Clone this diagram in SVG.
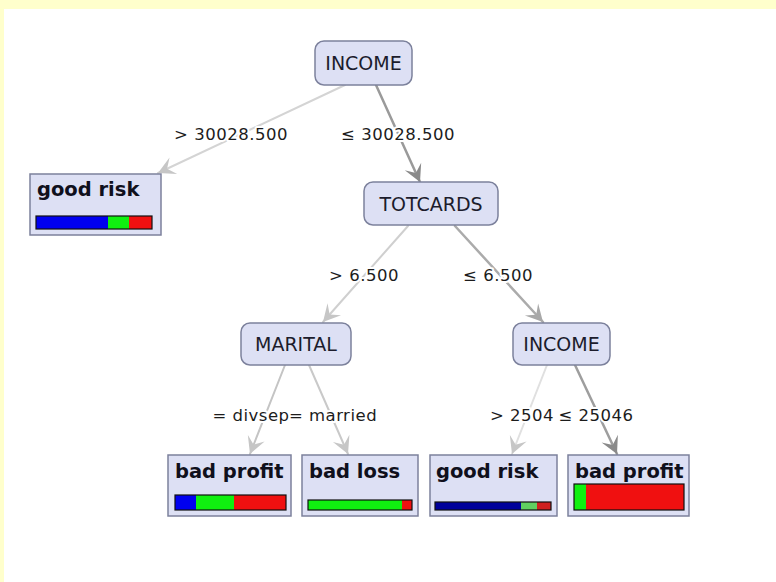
<svg xmlns="http://www.w3.org/2000/svg" width="776" height="582" viewBox="0 0 776 582">
  <defs>
    <style>
      .node { fill: #dde0f4; stroke: #7c819c; stroke-width: 1.5; }
      .lbl { font-family: "DejaVu Sans", sans-serif; font-size: 19px; fill: #1c1c2c; text-anchor: middle; }
      .leaf-lbl { font-family: "DejaVu Sans", sans-serif; font-size: 19.5px; font-weight: bold; fill: #10101c; }
      .edge-lbl { font-family: "DejaVu Sans", sans-serif; font-size: 16.5px; fill: #1c1c1c; text-anchor: middle; letter-spacing: 0.5px; stroke: #ffffff; stroke-width: 4px; paint-order: stroke; stroke-linejoin: round; }
      .bar { stroke: #101010; stroke-width: 1.2; fill: none; }
      .e { fill: none; stroke-linecap: round; }
    </style>
    <marker id="ah-light" markerUnits="userSpaceOnUse" markerWidth="22" markerHeight="22" viewBox="-18 -11 22 22" refX="0" refY="0" orient="auto">
      <path d="M0,0 L-17,-9 L-10,0 L-17,9 Z" fill="#c6c6c6"/>
    </marker>
    <marker id="ah-mid" markerUnits="userSpaceOnUse" markerWidth="22" markerHeight="22" viewBox="-18 -11 22 22" refX="0" refY="0" orient="auto">
      <path d="M0,0 L-17,-9 L-10,0 L-17,9 Z" fill="#a8a8a8"/>
    </marker>
    <marker id="ah-dark" markerUnits="userSpaceOnUse" markerWidth="22" markerHeight="22" viewBox="-18 -11 22 22" refX="0" refY="0" orient="auto">
      <path d="M0,0 L-17,-9 L-10,0 L-17,9 Z" fill="#8a8a8a"/>
    </marker>
  </defs>

  <!-- canvas -->
  <rect x="0" y="0" width="776" height="582" fill="#ffffcc"/>
  <rect x="4" y="9" width="772" height="573" fill="#ffffff"/>

  <!-- connectors -->
  <g id="edges">
    <path class="e" d="M345,85 L158,173" stroke="#d4d4d4" stroke-width="2" marker-end="url(#ah-light)"/>
    <path class="e" d="M376,85 L420,182" stroke="#9a9a9a" stroke-width="2.5" marker-end="url(#ah-dark)"/>
    <path class="e" d="M408,226 L323,322" stroke="#cfcfcf" stroke-width="2" marker-end="url(#ah-light)"/>
    <path class="e" d="M455,226 L543,322" stroke="#ababab" stroke-width="2.5" marker-end="url(#ah-mid)"/>
    <path class="e" d="M285,365 L250,454" stroke="#c4c4c4" stroke-width="2" marker-end="url(#ah-light)"/>
    <path class="e" d="M309,365 L348,454" stroke="#c9c9c9" stroke-width="2" marker-end="url(#ah-light)"/>
    <path class="e" d="M547,365 L512,454" stroke="#e0e0e0" stroke-width="2" marker-end="url(#ah-light)"/>
    <path class="e" d="M575,365 L617,454" stroke="#9e9e9e" stroke-width="2.5" marker-end="url(#ah-dark)"/>

    <text class="edge-lbl" x="231" y="140">&gt; 30028.500</text>
    <text class="edge-lbl" x="398" y="140">≤ 30028.500</text>
    <text class="edge-lbl" x="364" y="281">&gt; 6.500</text>
    <text class="edge-lbl" x="498" y="281">≤ 6.500</text>
    <text class="edge-lbl" x="251" y="421">= divsep</text>
    <text class="edge-lbl" x="333" y="421">= married</text>
    <text class="edge-lbl" x="522" y="421">&gt; 2504</text>
    <text class="edge-lbl" x="596" y="421">≤ 25046</text>
  </g>

  <!-- decision nodes -->
  <g id="node-income">
    <rect class="node" x="315" y="41" width="97" height="44" rx="9"/>
    <text class="lbl" x="363.5" y="70">INCOME</text>
  </g>
  <g id="node-totcards">
    <rect class="node" x="364" y="182" width="134" height="43" rx="9"/>
    <text class="lbl" x="431" y="211">TOTCARDS</text>
  </g>
  <g id="node-marital">
    <rect class="node" x="241" y="323" width="110" height="42" rx="9"/>
    <text class="lbl" x="296" y="351">MARITAL</text>
  </g>
  <g id="node-income2">
    <rect class="node" x="513" y="323" width="97" height="42" rx="9"/>
    <text class="lbl" x="561.5" y="351">INCOME</text>
  </g>

  <!-- leaf nodes -->
  <g id="leaf-good-risk-1">
    <rect class="node" x="30" y="174" width="131" height="61"/>
    <text class="leaf-lbl" x="37" y="196">good risk</text>
    <rect x="36" y="216" width="72" height="13" fill="#0000f0"/>
    <rect x="108" y="216" width="21" height="13" fill="#10f010"/>
    <rect x="129" y="216" width="23" height="13" fill="#f01010"/>
    <rect class="bar" x="36" y="216" width="116" height="13"/>
  </g>
  <g id="leaf-bad-profit-1">
    <rect class="node" x="168" y="455" width="123" height="61"/>
    <text class="leaf-lbl" x="175" y="478">bad profit</text>
    <rect x="175" y="495" width="21" height="15" fill="#0000f0"/>
    <rect x="196" y="495" width="38" height="15" fill="#10f010"/>
    <rect x="234" y="495" width="52" height="15" fill="#f01010"/>
    <rect class="bar" x="175" y="495" width="111" height="15"/>
  </g>
  <g id="leaf-bad-loss">
    <rect class="node" x="302" y="455" width="116" height="61"/>
    <text class="leaf-lbl" x="309" y="478">bad loss</text>
    <rect x="308" y="500" width="94" height="10" fill="#10f010"/>
    <rect x="402" y="500" width="10" height="10" fill="#f01010"/>
    <rect class="bar" x="308" y="500" width="104" height="10"/>
  </g>
  <g id="leaf-good-risk-2">
    <rect class="node" x="430" y="455" width="127" height="61"/>
    <text class="leaf-lbl" x="436" y="478">good risk</text>
    <rect x="435" y="502" width="86" height="8" fill="#00009a"/>
    <rect x="521" y="502" width="16" height="8" fill="#60d060"/>
    <rect x="537" y="502" width="14" height="8" fill="#d02020"/>
    <rect class="bar" x="435" y="502" width="116" height="8"/>
  </g>
  <g id="leaf-bad-profit-2">
    <rect class="node" x="568" y="455" width="121" height="61"/>
    <text class="leaf-lbl" x="575" y="478">bad profit</text>
    <rect x="574" y="484" width="12" height="26" fill="#10f010"/>
    <rect x="586" y="484" width="98" height="26" fill="#f01010"/>
    <rect class="bar" x="574" y="484" width="110" height="26"/>
  </g>
</svg>
